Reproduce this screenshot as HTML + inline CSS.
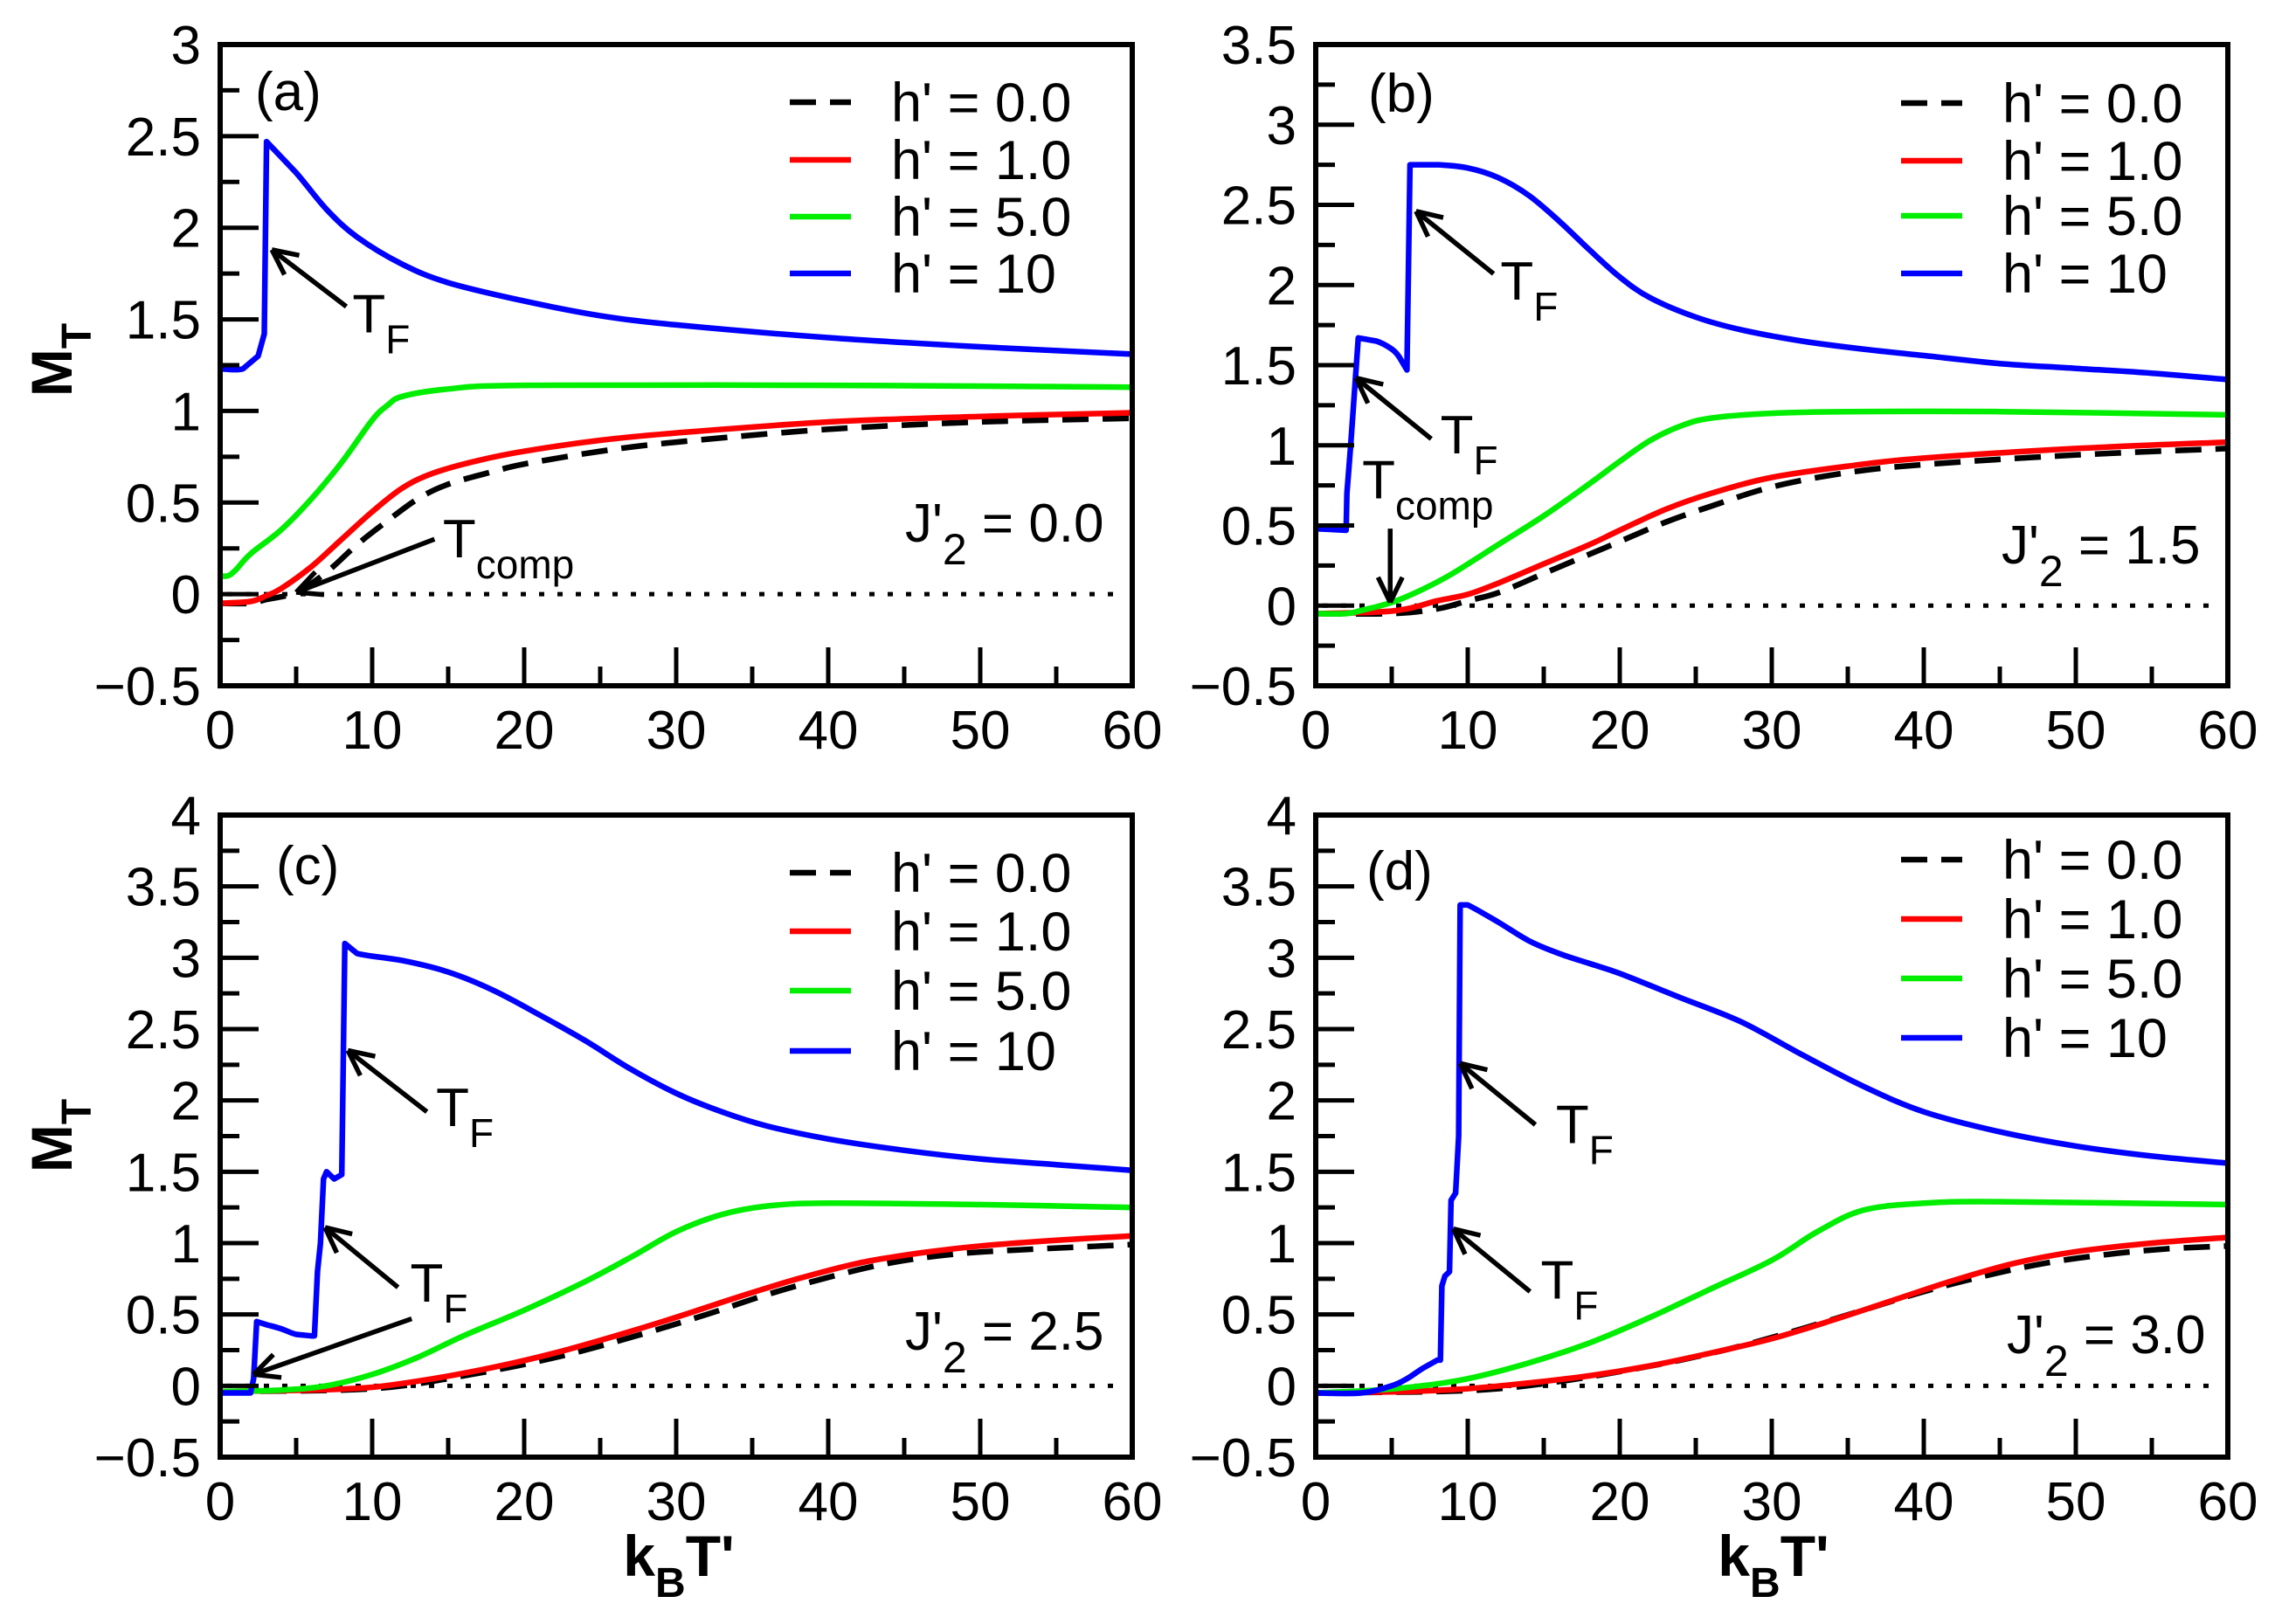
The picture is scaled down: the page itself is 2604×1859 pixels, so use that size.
<!DOCTYPE html>
<html><head><meta charset="utf-8">
<style>
html,body{margin:0;padding:0;background:#fff;}
svg{display:block;font-family:"Liberation Sans",Arial,sans-serif;}
</style></head>
<body>
<svg id="fig" width="2604" height="1859" viewBox="0 0 2604 1859" xmlns="http://www.w3.org/2000/svg"></svg>
<script>
// ---------- data: panel (a) J'2 = 0.0 ----------
const aH0X=[0,2,3,5,7,9,11,13,15,18,20,25,30,40,50,60];
const aH0Y=[-0.05,-0.05,-0.03,0.01,0.12,0.27,0.4,0.52,0.6,0.67,0.71,0.78,0.83,0.9,0.94,0.96];
const aH1X=[0,2,3,4,6,8,10,12,14,17,20,25,30,40,50,60];
const aH1Y=[-0.05,-0.04,-0.01,0.03,0.15,0.3,0.45,0.58,0.66,0.73,0.78,0.84,0.88,0.94,0.97,0.99];
const aH5X=[0,0.5,1,2,4,6,8,10,11,12,15,20,40,60];
const aH5Y=[0.1,0.1,0.13,0.22,0.35,0.52,0.72,0.95,1.03,1.08,1.12,1.14,1.14,1.13];
const aH10X=[0,1.5,2.5,2.9,3.05,5,7,9,12,15,20,25,30,40,50,60];
const aH10Y=[1.23,1.23,1.3,1.42,2.47,2.3,2.1,1.95,1.8,1.7,1.6,1.52,1.47,1.4,1.35,1.31];
// ---------- data: panel (b) J'2 = 1.5 ----------
const bH0X=[0,5,8,10,12,15,18,20,23,26,30,35,40,50,60];
const bH0Y=[-0.05,-0.05,-0.02,0.03,0.08,0.2,0.32,0.4,0.52,0.62,0.74,0.83,0.88,0.94,0.98];
const bH1X=[0,4,6,8,10,12,15,18,20,23,26,30,35,40,50,60];
const bH1Y=[-0.05,-0.04,-0.02,0.03,0.07,0.14,0.26,0.38,0.47,0.6,0.7,0.8,0.87,0.92,0.98,1.02];
const bH5X=[0,2,3,5,7,9,12,15,18,20,22,24,26,30,35,45,60];
const bH5Y=[-0.05,-0.05,-0.03,0.02,0.1,0.2,0.38,0.56,0.76,0.9,1.03,1.12,1.17,1.2,1.21,1.21,1.19];
const bH10X=[0,2,2.05,2.3,2.6,2.8,4,5,5.5,6,6.2,8,10,12,14,16,18,20,22,25,28,32,36,40,45,50,55,60];
const bH10Y=[0.48,0.47,0.7,1.0,1.4,1.67,1.65,1.6,1.55,1.47,2.75,2.75,2.73,2.67,2.56,2.4,2.22,2.05,1.92,1.8,1.72,1.65,1.6,1.56,1.51,1.48,1.45,1.41];
// ---------- data: panel (c) J'2 = 2.5 ----------
const cH0X=[0,8,12,16,20,24,28,32,36,40,44,48,52,56,60];
const cH0Y=[-0.04,-0.03,0.0,0.07,0.15,0.25,0.37,0.5,0.64,0.76,0.86,0.92,0.95,0.97,0.99];
const cH1X=[0,6,10,14,18,22,26,30,34,38,42,46,50,55,60];
const cH1Y=[-0.04,-0.03,-0.01,0.05,0.13,0.23,0.35,0.48,0.62,0.75,0.86,0.93,0.98,1.02,1.05];
const cH5X=[0,4,7,10,13,16,20,24,27,30,33,36,40,50,60];
const cH5Y=[-0.04,-0.03,0.0,0.08,0.2,0.35,0.53,0.73,0.9,1.08,1.2,1.26,1.28,1.27,1.25];
const cH10X=[0,2,2.2,2.4,3,4,5,6,6.2,6.4,6.6,6.8,7,7.5,8,8.2,9,12,15,18,21,24,27,30,33,36,40,45,50,55,60];
const cH10Y=[-0.05,-0.05,0.05,0.45,0.43,0.4,0.36,0.35,0.35,0.8,1.0,1.45,1.5,1.45,1.48,3.1,3.03,2.98,2.9,2.77,2.6,2.42,2.22,2.05,1.92,1.82,1.73,1.65,1.59,1.55,1.51];
// ---------- data: panel (d) J'2 = 3.0 ----------
const dH0X=[0,8,12,16,20,24,28,32,36,40,44,48,52,56,60];
const dH0Y=[-0.05,-0.04,-0.02,0.03,0.1,0.18,0.28,0.4,0.53,0.66,0.77,0.86,0.92,0.96,0.98];
const dH1X=[0,6,10,14,18,22,26,30,34,38,42,46,50,55,60];
const dH1Y=[-0.05,-0.04,-0.02,0.02,0.07,0.14,0.23,0.33,0.46,0.6,0.74,0.86,0.94,1.0,1.04];
const dH5X=[0,4,7,10,14,18,22,26,30,33,36,40,45,60];
const dH5Y=[-0.05,-0.03,0.0,0.05,0.16,0.3,0.48,0.68,0.88,1.08,1.23,1.28,1.29,1.27];
const dH10X=[0,3,5,6,7,8,8.2,8.3,8.5,8.8,8.9,9.2,9.4,9.5,10,12,14,16,18,20,24,28,32,36,40,45,50,55,60];
const dH10Y=[-0.05,-0.05,0.0,0.05,0.12,0.18,0.18,0.7,0.77,0.8,1.3,1.35,1.75,3.37,3.37,3.25,3.12,3.03,2.96,2.89,2.72,2.55,2.32,2.1,1.92,1.78,1.68,1.61,1.56];
// ---------- ticks / labels ----------
const xTicks=[0,10,20,30,40,50,60];
const yTicksA=[-0.5,0,0.5,1,1.5,2,2.5,3];
const yTicksB=[-0.5,0,0.5,1,1.5,2,2.5,3,3.5];
const yTicksCD=[-0.5,0,0.5,1,1.5,2,2.5,3,3.5,4];
const legendLabels=["h' = 0.0","h' = 1.0","h' = 5.0","h' = 10"];
const panelTags=["(a)","(b)","(c)","(d)"];
const j2Values=["0.0","1.5","2.5","3.0"];

const NS="http://www.w3.org/2000/svg";
const svg=document.getElementById('fig');
function el(tag,attrs,parent){const e=document.createElementNS(NS,tag);for(const k in attrs)e.setAttribute(k,attrs[k]);(parent||svg).appendChild(e);return e;}
function fmt(v){return (v<0?"\u2212":"")+String(Math.abs(v));}

const COLORS=["#000","#ff0000","#00ee00","#0000ff"];

function smoothPath(xs,ys,sx,sy){
  const P=xs.map((x,i)=>[sx(x),sy(ys[i])]);
  const n=P.length;
  const isJump=i=>(i>=0&&i<n-1)&&(xs[i+1]-xs[i]<0.45);
  let d='M'+P[0][0].toFixed(1)+','+P[0][1].toFixed(1);
  for(let i=0;i<n-1;i++){
    const p1=P[i],p2=P[i+1];
    if(isJump(i)||isJump(i-1)||isJump(i+1)){d+='L'+p2[0].toFixed(1)+','+p2[1].toFixed(1);continue;}
    const p0=P[i-1]||p1,p3=P[i+2]||p2;
    const c1=[p1[0]+(p2[0]-p0[0])/6,p1[1]+(p2[1]-p0[1])/6];
    const c2=[p2[0]-(p3[0]-p1[0])/6,p2[1]-(p3[1]-p1[1])/6];
    d+='C'+c1[0].toFixed(1)+','+c1[1].toFixed(1)+' '+c2[0].toFixed(1)+','+c2[1].toFixed(1)+' '+p2[0].toFixed(1)+','+p2[1].toFixed(1);
  }
  return d;
}

function panel(P){
  const g=el('g',{});
  
  
  const sx=v=>P.L+(v-0)/60*(P.R-P.L);
  const sy=v=>P.B-(v-P.ymin)/(P.ymax-P.ymin)*(P.B-P.T);
  const zl=el('line',{x1:P.L+8,x2:P.R-8,y1:sy(0),y2:sy(0),stroke:'#000','stroke-width':5,'stroke-dasharray':'6 15'},g);
  
  
  const names=['h0','h1','h5','h10'];
  P.series.forEach((s,i)=>{
    const attrs={d:smoothPath(s[0],s[1],sx,sy),fill:'none',stroke:COLORS[i],'stroke-width':6.5,'stroke-linejoin':'round'};
    if(i===0)attrs['stroke-dasharray']='30 16';
    const p=el('path',attrs,g);
    
    
  });
  const fr=el('rect',{x:P.L,y:P.T,width:P.R-P.L,height:P.B-P.T,fill:'none',stroke:'#000','stroke-width':6},g);
  
  
  for(let v=0;v<=60;v+=5){
    const maj=v%10===0;
    const t=el('line',{x1:sx(v),x2:sx(v),y1:P.B,y2:P.B-(maj?44:22),stroke:'#000','stroke-width':5},g);
    
    
  }
  xTicks.forEach(v=>{
    const t=el('text',{x:sx(v),y:P.B+72,'font-size':62,'text-anchor':'middle'},g);
    t.textContent=fmt(v);
    
    
  });
  for(let v=P.ymin+0.25;v<P.ymax-0.01;v+=0.25){
    const maj=Math.abs(v*2-Math.round(v*2))<1e-6;
    const t=el('line',{x1:P.L,x2:P.L+(maj?44:22),y1:sy(v),y2:sy(v),stroke:'#000','stroke-width':5},g);
    
    
  }
  P.yTicks.forEach(v=>{
    const t=el('text',{x:P.L-22,y:sy(v)+22,'font-size':62,'text-anchor':'end'},g);
    t.textContent=fmt(v);
    
    
  });
  const lg=el('g',{},g);
  
  
  legendLabels.forEach((lab,i)=>{
    const y=P.legY[i];
    const la={x1:P.legX,x2:P.legX+70,y1:y,y2:y,stroke:COLORS[i],'stroke-width':6.5};
    if(i===0)la['stroke-dasharray']='30 16';
    const ln=el('line',la,lg);
    
    
    const t=el('text',{x:P.legX+116,y:y+22,'font-size':63},lg);
    t.textContent=lab;
    
    
  });
  const tg=el('text',{x:P.tag[0],y:P.tag[1],'font-size':62},g);
  tg.textContent=P.tagText;
  
  
  const jt=el('text',{x:P.jx,y:P.jy,'font-size':62},g);
  
  
  const s1=el('tspan',{},jt); s1.textContent="J'";
  const s2=el('tspan',{dy:26,'font-size':50},jt); s2.textContent="2";
  const s3=el('tspan',{dy:-26},jt); s3.textContent=" = "+P.jval;
  P.arrows.forEach(a=>{
    const x1=sx(a[0]),y1=sy(a[1]),x2=sx(a[2]),y2=sy(a[3]);
    const ang=Math.atan2(y2-y1,x2-x1);
    const ag=el('g',{stroke:'#000','stroke-width':5.5,fill:'none'},g);
    
    
    el('line',{x1:x1,y1:y1,x2:x2,y2:y2},ag);
    [0.45,-0.45].forEach(d=>{
      el('line',{x1:x2,y1:y2,x2:x2-32*Math.cos(ang+d),y2:y2-32*Math.sin(ang+d)},ag);
    });
  });
  P.labels.forEach(l=>{
    const t=el('text',{x:sx(l[0]),y:sy(l[1]),'font-size':62},g);
    
    
    const a=el('tspan',{},t); a.textContent='T';
    const b=el('tspan',{dy:24,'font-size':46},t); b.textContent=l[2];
  });
}

panel({id:'a',L:252,R:1296,T:51,B:785,ymin:-0.5,ymax:3,yTicks:yTicksA,
  series:[[aH0X,aH0Y],[aH1X,aH1Y],[aH5X,aH5Y],[aH10X,aH10Y]],
  legX:904,legY:[117,183,248,313],tag:[292,126],tagText:panelTags[0],
  jx:1036,jy:620,jval:j2Values[0],
  arrows:[[8.3,1.57,3.4,1.88],[14.1,0.30,5.0,0.01]],
  labels:[[8.7,1.43,'F'],[14.65,0.2,'comp']]});
panel({id:'b',L:1506,R:2550,T:51,B:785,ymin:-0.5,ymax:3.5,yTicks:yTicksB,
  series:[[bH0X,bH0Y],[bH1X,bH1Y],[bH5X,bH5Y],[bH10X,bH10Y]],
  legX:2176,legY:[118,184,247,313],tag:[1566,128],tagText:panelTags[1],
  jx:2291,jy:645,jval:j2Values[1],
  arrows:[[11.7,2.07,6.6,2.46],[7.6,1.04,2.65,1.42],[4.9,0.48,4.9,0.02]],
  labels:[[12.15,1.91,'F'],[8.2,0.95,'F'],[3.05,0.67,'comp']]});
panel({id:'c',L:252,R:1296,T:933,B:1668,ymin:-0.5,ymax:4,yTicks:yTicksCD,
  series:[[cH0X,cH0Y],[cH1X,cH1Y],[cH5X,cH5Y],[cH10X,cH10Y]],
  legX:904,legY:[999,1066,1134,1203],tag:[316,1012],tagText:panelTags[2],
  jx:1036,jy:1545,jval:j2Values[2],
  arrows:[[13.6,1.92,8.4,2.35],[11.7,0.69,6.9,1.11],[12.6,0.47,2.2,0.08]],
  labels:[[14.2,1.82,'F'],[12.5,0.59,'F']]});
panel({id:'d',L:1506,R:2550,T:933,B:1668,ymin:-0.5,ymax:4,yTicks:yTicksCD,
  series:[[dH0X,dH0Y],[dH1X,dH1Y],[dH5X,dH5Y],[dH10X,dH10Y]],
  legX:2176,legY:[984,1052,1120,1188],tag:[1564,1018],tagText:panelTags[3],
  jx:2297,jy:1549,jval:j2Values[3],
  arrows:[[14.45,1.83,9.5,2.26],[14.1,0.66,9.05,1.10]],
  labels:[[15.8,1.70,'F'],[14.8,0.61,'F']]});

function yTitle(cy,name){
  const t=el('text',{x:0,y:0,'font-size':66,'font-weight':'bold','text-anchor':'middle',transform:'translate(82,'+cy+') rotate(-90)'});
  
  
  const a=el('tspan',{},t);a.textContent='M';
  const b=el('tspan',{dy:22,'font-size':48},t);b.textContent='T';
}
yTitle(412,'y-axis-title-top');
yTitle(1300,'y-axis-title-bottom');
function xTitle(cx,name){
  const t=el('text',{x:cx,y:1804,'font-size':66,'font-weight':'bold','text-anchor':'middle'});
  
  
  const a=el('tspan',{},t);a.textContent='k';
  const b=el('tspan',{dy:24,'font-size':48},t);b.textContent='B';
  const c=el('tspan',{dy:-24},t);c.textContent="T'";
}
xTitle(777,'x-axis-title-left');
xTitle(2030,'x-axis-title-right');
</script>
</body></html>
